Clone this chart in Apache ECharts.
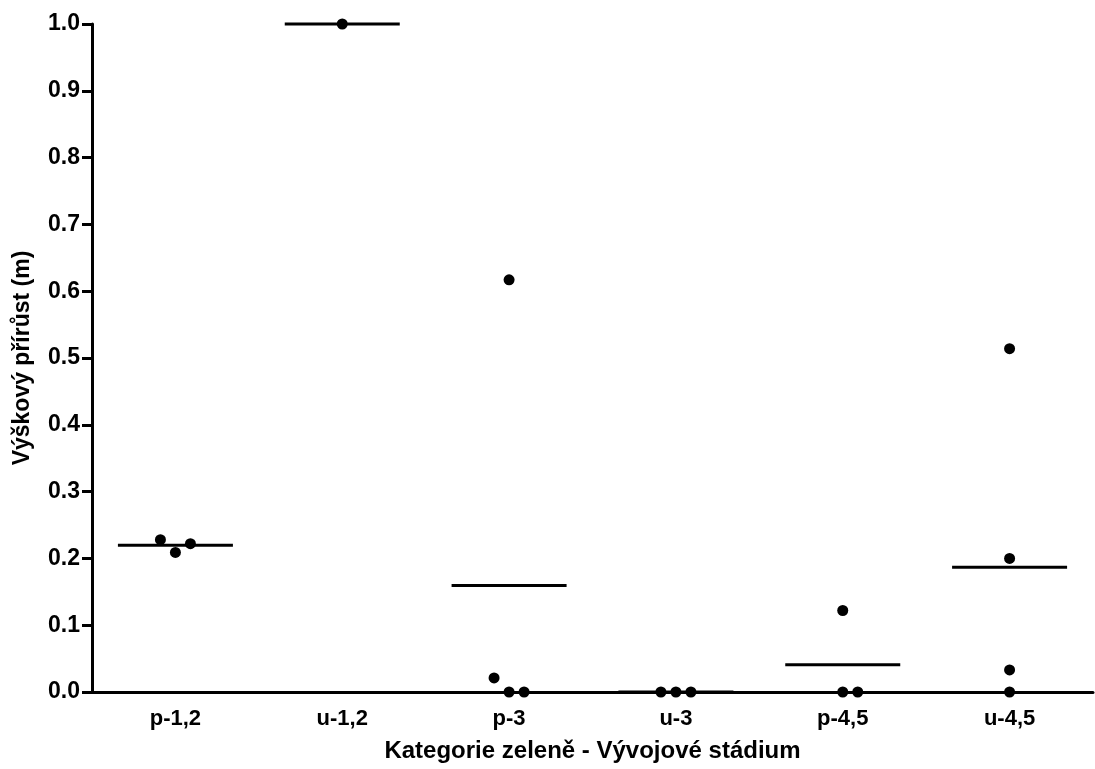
<!DOCTYPE html>
<html>
<head>
<meta charset="utf-8">
<script src="https://cdn.jsdelivr.net/npm/echarts@6/dist/echarts.min.js"></script>
<style>
  html, body { margin: 0; padding: 0; background: #fff; }
  #chart { width: 1095px; height: 769px; }
</style>
</head>
<body>
<div id="chart"></div>
<script>
// Growth increment per greenery category / development stage
const categories = ['p-1,2', 'u-1,2', 'p-3', 'u-3', 'p-4,5', 'u-4,5'];
const p12 = [0.228, 0.209, 0.222];
const u12 = [1.0];
const p3 = [0.617, 0.021, 0, 0];
const u3 = [0, 0, 0];
const p45 = [0.122, 0, 0];
const u45 = [0.514, 0.200, 0.033, 0];
const groups = [p12, u12, p3, u3, p45, u45];

const FONT = '"Liberation Sans", Arial, sans-serif';
const DOT_STEP = 15;      // horizontal spread between overlapping dots, px
const NEAR = 0.025;       // values closer than this are spread side by side

// Spread near-equal values horizontally so the dots do not overlap
function spreadOffsets(values) {
  const clusters = [];
  values.forEach((v, i) => {
    let c = clusters.find(cl => cl.some(j => Math.abs(values[j] - v) < NEAR));
    if (!c) { c = []; clusters.push(c); }
    c.push(i);
  });
  const offs = new Array(values.length).fill(0);
  clusters.forEach(cl => {
    const start = -Math.floor((cl.length - 1) / 2) * DOT_STEP;
    cl.forEach((idx, k) => { offs[idx] = start + k * DOT_STEP; });
  });
  return offs;
}

const dots = [];
const means = [];
groups.forEach((vals, ci) => {
  const offs = spreadOffsets(vals);
  vals.forEach((v, i) => {
    dots.push({ value: [ci, v], symbolOffset: [offs[i], 0] });
  });
  const m = vals.reduce((a, b) => a + b, 0) / vals.length;
  means.push([ci, m]);
});

const chart = echarts.init(document.getElementById('chart'), null, { renderer: 'canvas' });
chart.setOption({
  backgroundColor: '#ffffff',
  animation: false,
  grid: { left: 92, right: 2, top: 24, bottom: 77, containLabel: false },
  xAxis: {
    type: 'category',
    data: categories,
    boundaryGap: true,
    name: 'Kategorie zeleně - Vývojové stádium',
    nameLocation: 'middle',
    nameGap: 47,
    nameTextStyle: { color: '#000', fontFamily: FONT, fontWeight: 'bold', fontSize: 24 },
    axisLine: { lineStyle: { color: '#000', width: 3 } },
    axisTick: { alignWithLabel: true, length: 10, lineStyle: { color: '#000', width: 3 } },
    axisLabel: { color: '#000', fontFamily: FONT, fontWeight: 'bold', fontSize: 22, margin: 16 },
    splitLine: { show: false }
  },
  yAxis: {
    type: 'value',
    min: 0,
    max: 1,
    interval: 0.1,
    name: 'Výškový přírůst (m)',
    nameLocation: 'middle',
    nameGap: 58,
    nameRotate: 90,
    nameTextStyle: { color: '#000', fontFamily: FONT, fontWeight: 'bold', fontSize: 23 },
    axisLine: { show: true, lineStyle: { color: '#000', width: 3 } },
    axisTick: { show: true, length: 10, lineStyle: { color: '#000', width: 3 } },
    axisLabel: {
      color: '#000', fontFamily: FONT, fontWeight: 'bold', fontSize: 23, margin: 12,
      formatter: v => v.toFixed(1)
    },
    splitLine: { show: false }
  },
  series: [
    {
      name: 'mean',
      type: 'scatter',
      data: means,
      symbol: 'rect',
      symbolSize: [115, 3],
      itemStyle: { color: '#000', opacity: 1 },
      clip: false,
      z: 3,
      silent: true
    },
    {
      name: 'values',
      type: 'scatter',
      data: dots,
      symbol: 'circle',
      symbolSize: 11,
      itemStyle: { color: '#000', opacity: 1 },
      clip: false,
      z: 4,
      silent: true
    }
  ]
});
</script>
</body>
</html>
